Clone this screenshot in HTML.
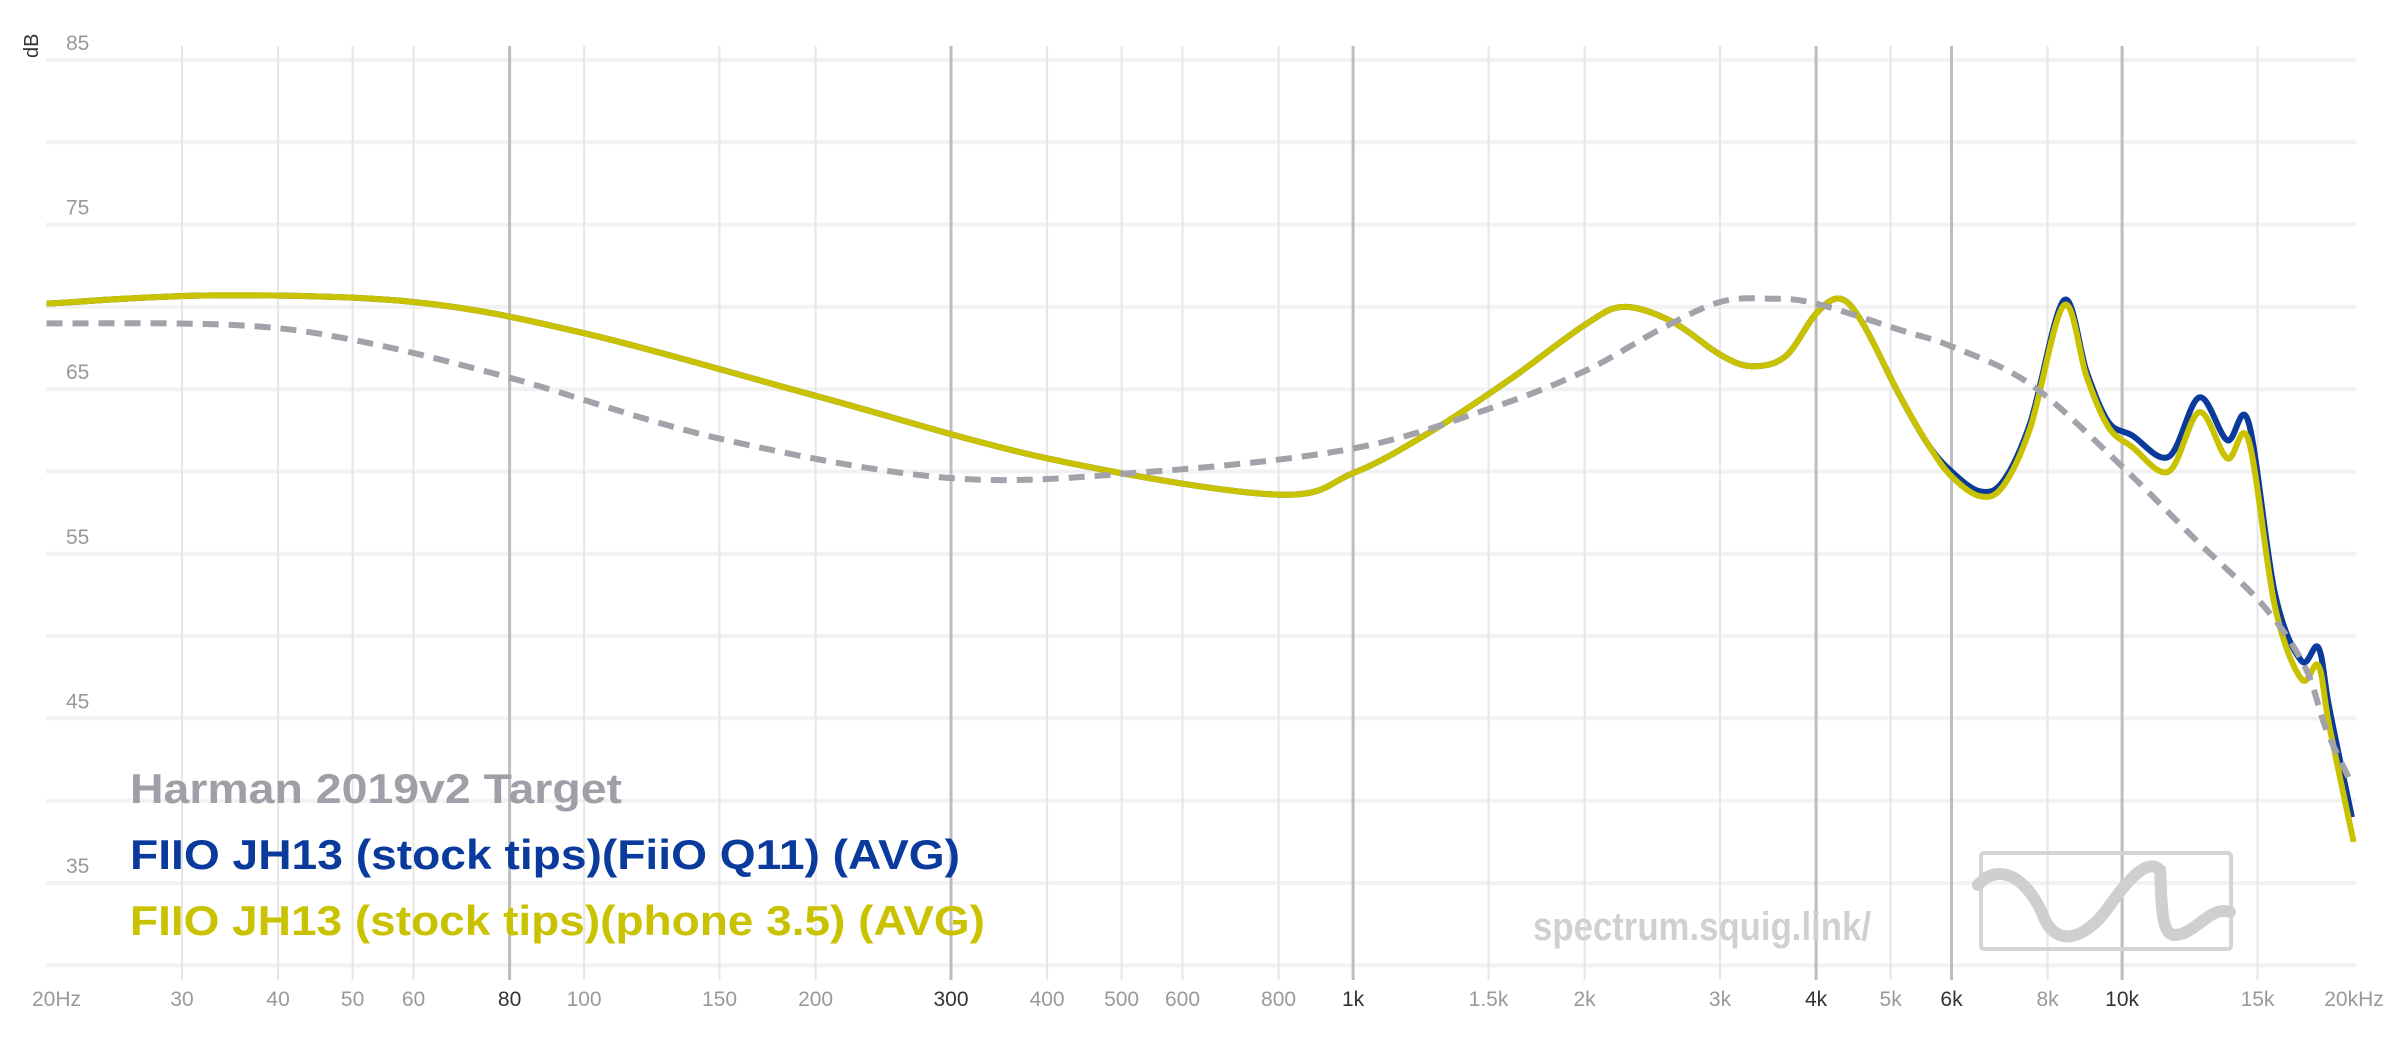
<!DOCTYPE html>
<html><head><meta charset="utf-8"><style>
html,body{margin:0;padding:0;background:#fff;}
svg{display:block;font-family:"Liberation Sans",sans-serif;}
</style></head><body>
<svg id="s" width="2400" height="1038" viewBox="0 0 2400 1038">
<g id="grid"></g>
<g id="curves"></g>
<text x="130" y="803" font-size="42" font-weight="bold" fill="#a09fa8" textLength="492" lengthAdjust="spacingAndGlyphs">Harman 2019v2 Target</text>
<text x="130" y="869" font-size="42" font-weight="bold" fill="#0a3a9c" textLength="830" lengthAdjust="spacingAndGlyphs">FIIO JH13 (stock tips)(FiiO Q11) (AVG)</text>
<text x="130" y="935" font-size="42" font-weight="bold" fill="#c9c200" textLength="855" lengthAdjust="spacingAndGlyphs">FIIO JH13 (stock tips)(phone 3.5) (AVG)</text>
<text x="1533" y="940" font-size="40" font-weight="bold" fill="#d0d0d0" textLength="338" lengthAdjust="spacingAndGlyphs">spectrum.squig.link/</text>
<rect x="1981" y="853" width="250" height="96" fill="none" stroke="#d4d4d4" stroke-width="4" rx="3"/>
<path d="M1978,885 C2000,860 2030,880 2045,920 C2060,950 2090,935 2110,905 C2135,870 2150,860 2160,870 C2162,900 2160,935 2175,935 C2195,935 2210,905 2230,912" fill="none" stroke="#cfcfcf" stroke-width="12" stroke-linecap="round"/>
<text transform="translate(38,58) rotate(-90)" font-size="20" fill="#333">dB</text>
</svg>
<script>
(function(){
var NS="http://www.w3.org/2000/svg";
function X(f){return 46.6+769*Math.log10(f/20);}
function Y(d){return 60+(85-d)*16.46;}
var g=document.getElementById('grid'),c=document.getElementById('curves');
function el(p,t,a){var e=document.createElementNS(NS,t);for(var k in a)e.setAttribute(k,a[k]);p.appendChild(e);return e;}
for(var d=85;d>=30;d-=5){el(g,'line',{x1:46,x2:2356,y1:Y(d),y2:Y(d),stroke:'#f2f2f2','stroke-width':4});}
[85,75,65,55,45,35].forEach(function(d){var t=el(g,'text',{x:66,y:Y(d)-10,'font-size':21,fill:'#999'});t.textContent=d;});
var ticks=[[20,'20Hz',0],[30,'30',0],[40,'40',0],[50,'50',0],[60,'60',0],[80,'80',1],[100,'100',0],[150,'150',0],[200,'200',0],[300,'300',1],[400,'400',0],[500,'500',0],[600,'600',0],[800,'800',0],[1000,'1k',1],[1500,'1.5k',0],[2000,'2k',0],[3000,'3k',0],[4000,'4k',1],[5000,'5k',0],[6000,'6k',1],[8000,'8k',0],[10000,'10k',1],[15000,'15k',0],[20000,'20kHz',0]];
ticks.forEach(function(t){var x=X(t[0]);
 if(t[0]>20&&t[0]<20000)el(g,'line',{x1:x,x2:x,y1:46,y2:980,stroke:t[2]?'#bdbdbd':'#e6e6e6','stroke-width':t[2]?3:2});
 var tx=el(g,'text',{x:t[0]==20?32:(t[0]==20000?2354:x),y:1006,'font-size':21,fill:t[2]?'#333':'#999','text-anchor':t[0]==20?'start':'middle'});tx.textContent=t[1];});
function path(pts){
 var P=pts.map(function(p){return [X(p[0]),Y(p[1])];});var s='M'+P[0][0].toFixed(1)+','+P[0][1].toFixed(1);
 for(var i=0;i<P.length-1;i++){var p0=P[Math.max(0,i-1)],p1=P[i],p2=P[i+1],p3=P[Math.min(P.length-1,i+2)];
  var c1=[p1[0]+(p2[0]-p0[0])/6,p1[1]+(p2[1]-p0[1])/6],c2=[p2[0]-(p3[0]-p1[0])/6,p2[1]-(p3[1]-p1[1])/6];
  s+=' C'+c1[0].toFixed(1)+','+c1[1].toFixed(1)+' '+c2[0].toFixed(1)+','+c2[1].toFixed(1)+' '+p2[0].toFixed(1)+','+p2[1].toFixed(1);}
 return s;}
var harman=[[20,69],[35,68.9],[50,68],[80,65.7],[150,62],[300,59.6],[550,60],[1000,61.4],[1500,63.8],[2000,66.1],[2500,68.6],[3000,70.3],[3500,70.5],[4000,70.2],[5140,68.6],[6000,67.6],[7600,65.3],[9900,60.5],[12500,55.8],[15300,51.8],[17300,48.1],[18400,44.4],[19900,41]];
var base=[[20,70.2],[33,70.7],[60,70.3],[100,68.4],[200,64.6],[400,60.8],[790,58.6],[1000,59.9],[1250,62.3],[1600,65.6],[2000,68.9],[2250,70],[2600,69.1],[3000,67.1],[3300,66.4],[3650,67],[4000,69.6],[4300,70.5],[4600,69],[5140,64.6],[5600,61.6],[6000,60],[6530,58.8],[7000,59.4],[7600,63],[8400,70.4],[9000,66],[9600,63],[10300,62.2]];
var blue=base.concat([[11500,60.9],[12600,64.5],[13700,61.9],[14600,63],[15800,52.6],[17100,48.5],[18000,49.3],[18600,45.6],[19900,39]]);
var yel=base.map(function(p){return p[0]>=6000?[p[0],p[1]-0.3]:p;}).slice(0,-1).concat([[10300,61.5],[11500,60],[12600,63.6],[13700,60.8],[14600,61.9],[15800,51.8],[17100,47.4],[18000,48.2],[18600,44.5],[20000,37.5]]);
yel=yel.map(function(p){return p[0]==8400?[8400,70.1]:p;});
el(c,'path',{d:path(blue),fill:'none',stroke:'#0a3a9c','stroke-width':6,'stroke-linejoin':'round'});
el(c,'path',{d:path(yel),fill:'none',stroke:'#c9c200','stroke-width':6,'stroke-linejoin':'round'});
el(c,'path',{d:path(harman),fill:'none',stroke:'#a3a1aa','stroke-width':6,'stroke-dasharray':'16 10'});
})();
</script>
</body></html>
